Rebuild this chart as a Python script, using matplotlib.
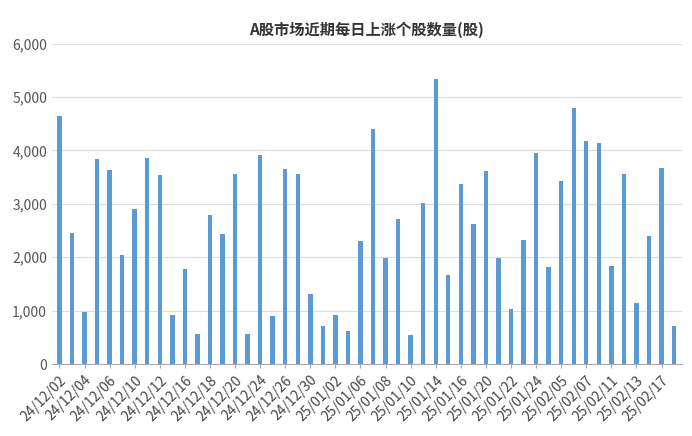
import matplotlib
matplotlib.use("Agg")
import matplotlib.pyplot as plt

plt.rcParams['font.family'] = ['Noto Sans CJK SC', 'DejaVu Sans']

dates = ["24/12/02","24/12/03","24/12/04","24/12/05","24/12/06","24/12/09","24/12/10","24/12/11","24/12/12","24/12/13",
         "24/12/16","24/12/17","24/12/18","24/12/19","24/12/20","24/12/23","24/12/24","24/12/25","24/12/26","24/12/27",
         "24/12/30","24/12/31","25/01/02","25/01/03","25/01/06","25/01/07","25/01/08","25/01/09","25/01/10","25/01/13",
         "25/01/14","25/01/15","25/01/16","25/01/17","25/01/20","25/01/21","25/01/22","25/01/23","25/01/24","25/01/27",
         "25/02/05","25/02/06","25/02/07","25/02/10","25/02/11","25/02/12","25/02/13","25/02/14","25/02/17","25/02/18"]
values = [4650,2450,980,3830,3640,2050,2900,3860,3540,920,
          1780,560,2800,2430,3560,560,3920,900,3650,3550,
          1320,710,920,610,2300,4400,1980,2720,540,3010,
          5330,1660,3370,2630,3620,1990,1040,2330,3960,1820,
          3430,4790,4170,4140,1840,3560,1150,2400,3680,720]

fig, ax = plt.subplots(figsize=(6.92, 4.36), dpi=100)
fig.subplots_adjust(left=0.075, right=0.985, top=0.9, bottom=0.165)
x = list(range(len(values)))
ax.bar(x, values, width=0.35, color='#5b9bd5', zorder=2)
ax.set_xlim(-0.6, len(values) - 0.4)
ax.set_ylim(0, 6000)
ax.set_yticks(range(0, 6001, 1000))
ax.set_yticklabels([f"{v:,}" for v in range(0, 6001, 1000)], fontsize=10, color='#555555')
ax.set_xticks(x[::2])
ax.set_xticklabels(dates[::2], rotation=45, ha='right', rotation_mode='anchor', fontsize=10, color='#444444')
ax.grid(axis='y', color='#dddddd', linewidth=0.8, zorder=0)
for s in ['top', 'right', 'left']:
    ax.spines[s].set_visible(False)
ax.spines['bottom'].set_color('#aaaaaa')
ax.tick_params(axis='y', length=0)
ax.tick_params(axis='x', length=3, color='#aaaaaa')
ax.set_title("A股市场近期每日上涨个股数量(股)", fontsize=11, fontweight='bold', color='#333333')
fig.savefig("out.png")
